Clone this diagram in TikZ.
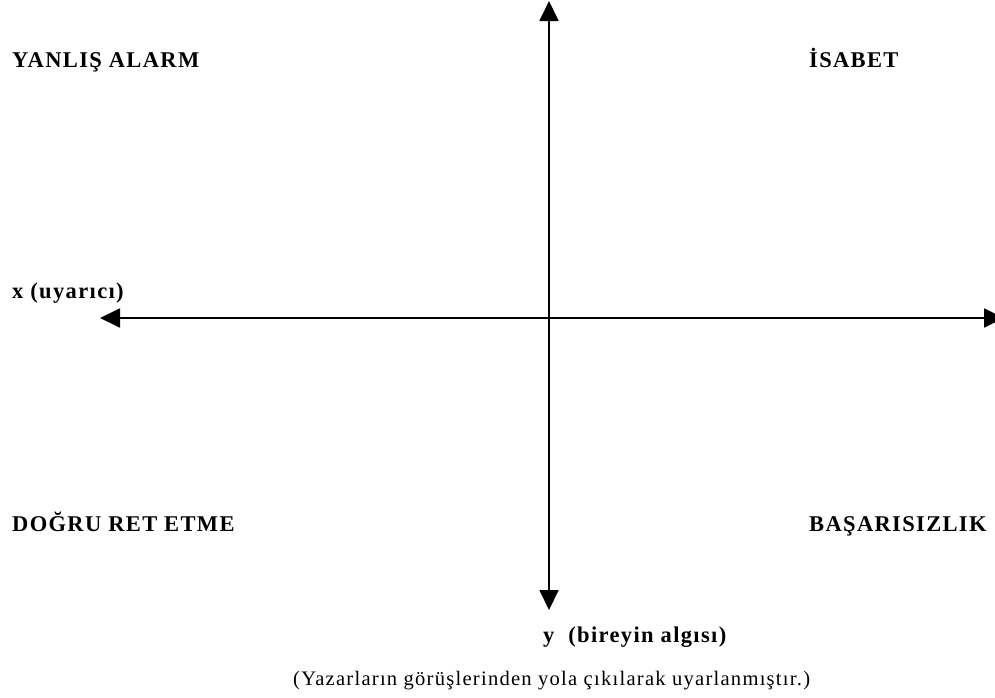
\documentclass[tikz,border=0pt]{standalone}
\usepackage{fontspec}
\setmainfont{Liberation Serif}
\newfontfamily\quadfont[LetterSpace=6]{Liberation Serif}
\usetikzlibrary{arrows.meta}

\begin{document}
\begin{tikzpicture}[
  x=1pt,
  y=-1pt,
  every node/.style={inner sep=0pt, black},
  axis/.style={black, line width=1.8pt,
               {Triangle[length=20pt, width=19pt]}-{Triangle[length=20pt, width=19pt]}},
  quadrant/.style={font=\quadfont\fontsize{22.5}{27}\selectfont\bfseries, anchor=base west},
  caption/.style={font=\quadfont\fontsize{20.6}{25}\selectfont, anchor=base west}
]
  % ---- page frame -------------------------------------------------------
  \useasboundingbox (0,0) rectangle (995,697);

  % ---- axis ends --------------------------------------------------------
  \coordinate (ytop) at (549,1);
  \coordinate (ybot) at (549,610);
  \coordinate (xleft) at (100,318);
  \coordinate (xright) at (1004,318);

  % ---- the two axes -----------------------------------------------------
  \draw[axis] (xleft) -- (xright);
  \draw[axis] (ybot) -- (ytop);

  % ---- the four outcomes ------------------------------------------------
  \node[quadrant] (falsealarm) at (12,67) {YANLIŞ ALARM};
  \node[quadrant] (hit) at (809,67) {İSABET};
  \node[quadrant] (rejection) at (12,531) {DOĞRU RET ETME};
  \node[quadrant] (miss) at (809,531) {BAŞARISIZLIK};

  % ---- axis names -------------------------------------------------------
  \node[quadrant] (xname) at (12,298) {x (uyarıcı)};
  \node[quadrant] (yname) at (543,642) {y\ \ (bireyin algısı)};

  % ---- source note ------------------------------------------------------
  \node[caption] (source) at (293,685)
    {(Yazarların görüşlerinden yola çıkılarak uyarlanmıştır.)};

\end{tikzpicture}
\end{document}
